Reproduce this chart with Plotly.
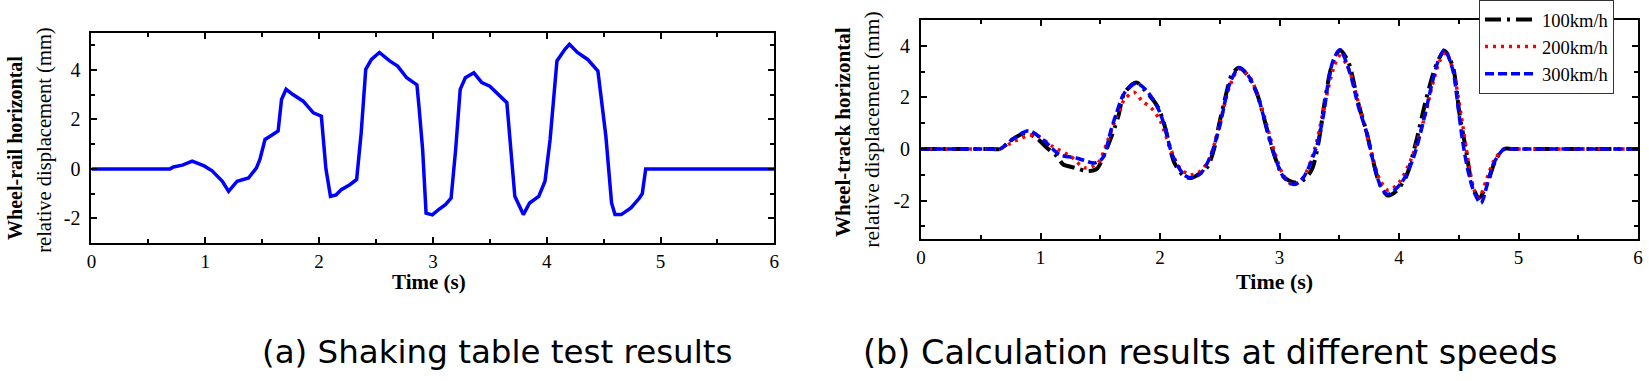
import plotly.graph_objects as go

W, H = 1649, 381

# ---------------- data ----------------
# (a) shaking table test
t_test = [0, 0.69, 0.72, 0.8, 0.885, 0.99, 1.06, 1.15, 1.205, 1.28, 1.38, 1.45, 1.48, 1.525, 1.57,
          1.64, 1.67, 1.71, 1.77, 1.86, 1.95, 2.02, 2.06, 2.10, 2.15, 2.195, 2.27, 2.33, 2.37, 2.41,
          2.46, 2.53, 2.62, 2.69, 2.77, 2.83, 2.86, 2.88, 2.91, 2.94, 2.995, 3.05, 3.11, 3.16, 3.2,
          3.24, 3.285, 3.36, 3.43, 3.5, 3.58, 3.65, 3.68, 3.72, 3.795, 3.85, 3.93, 3.985, 4.03, 4.09,
          4.16, 4.2, 4.27, 4.36, 4.45, 4.48, 4.52, 4.57, 4.6, 4.655, 4.74, 4.815, 4.84, 4.87, 6.0]
y_test = [0, 0, 0.08, 0.15, 0.31, 0.12, -0.08, -0.5, -0.91, -0.5, -0.37, 0.04, 0.38, 1.19, 1.32,
          1.53, 2.81, 3.22, 3.01, 2.74, 2.27, 2.13, 0, -1.11, -1.05, -0.84, -0.64, -0.43, 1.46, 4.03,
          4.43, 4.71, 4.37, 4.16, 3.69, 3.49, 3.4, 2.41, 0.78, -1.79, -1.86, -1.65, -1.45, -1.18, 0.78,
          3.22, 3.69, 3.89, 3.49, 3.35, 3.01, 2.68, 1.05, -1.11, -1.85, -1.38, -1.11, -0.5, 1.19, 4.37,
          4.84, 5.04, 4.71, 4.43, 3.96, 2.81, 1.32, -1.38, -1.85, -1.85, -1.58, -1.18, -1.0, 0, 0]

# (b) calculation results
t_100 = [0, 0.3, 0.6, 0.66, 0.76, 0.87, 0.96, 1.04, 1.135, 1.19, 1.29, 1.385, 1.47, 1.52, 1.59, 1.65, 1.70,
         1.80, 1.87, 1.98, 2.04, 2.08, 2.12, 2.2, 2.26, 2.34, 2.40, 2.45, 2.49, 2.535, 2.60, 2.66,
         2.73, 2.81, 2.895, 2.95, 3.03, 3.12, 3.2, 3.27, 3.325, 3.38, 3.435, 3.505, 3.575, 3.66, 3.73,
         3.78, 3.84, 3.905, 3.975, 4.06, 4.14, 4.225, 4.31, 4.38, 4.45, 4.505, 4.56, 4.615, 4.67, 4.74,
         4.81, 4.88, 4.95, 5.3, 6.0]
y_100 = [0, 0, 0, 0, 0.36, 0.62, 0.45, 0.1, -0.28, -0.6, -0.73, -0.86, -0.77, -0.35, 0.44, 1.26, 2.16,
         2.58, 2.29, 1.64, 0.87, 0.1, -0.54, -1.06, -1.12, -0.93, -0.67, -0.03, 0.87, 1.78, 2.87, 3.15,
         2.87, 2.16, 0.75, -0.15, -1.06, -1.3, -1.2, -0.8, 0.23, 1.9, 3.19, 3.83, 3.38, 1.75, 0.62,
         -0.41, -1.38, -1.8, -1.64, -1.06, 0.23, 1.9, 3.25, 3.8, 3.19, 1.39, -0.03, -1.44, -1.89, -1.31,
         -0.41, 0, 0, 0, 0]

t_200 = [0, 0.3, 0.6, 0.66, 0.78, 0.95, 1.1, 1.25, 1.37, 1.48, 1.56, 1.64, 1.70, 1.78, 1.855, 1.925, 2.0,
         2.08, 2.16, 2.25, 2.34, 2.42, 2.5, 2.58, 2.66, 2.75, 2.85, 2.95, 3.03, 3.11, 3.2, 3.3,
         3.38, 3.45, 3.5, 3.57, 3.66, 3.75, 3.84, 3.91, 4.0, 4.1, 4.2, 4.28, 4.34, 4.39, 4.45,
         4.52, 4.58, 4.63, 4.67, 4.73, 4.8, 4.88, 4.95, 5.3, 6.0]
y_200 = [0, 0, 0, 0, 0.3, 0.55, 0.1, -0.28, -0.73, -0.54, 0.3, 1.3, 1.9, 2.2, 1.84, 1.6, 1.1,
         0.1, -0.7, -1.0, -0.85, -0.3, 1.0, 2.4, 3.1, 2.8, 1.6, 0.0, -1.0, -1.4, -1.1, 0.1,
         1.8, 3.1, 3.6, 3.2, 1.8, 0.2, -1.2, -1.6, -1.3, -0.4, 1.0, 2.5, 3.4, 3.75, 3.1,
         1.3, -0.5, -1.6, -1.9, -1.2, -0.4, 0, 0, 0, 0]

t_300 = [0, 0.3, 0.6, 0.66, 0.76, 0.9, 1.02, 1.16, 1.30, 1.455, 1.52, 1.59, 1.63, 1.70, 1.80, 1.88, 1.98,
         2.04, 2.10, 2.2, 2.26, 2.34, 2.42, 2.5, 2.58, 2.66, 2.73, 2.81, 2.895, 2.95, 3.03, 3.12,
         3.2, 3.31, 3.37, 3.41, 3.45, 3.505, 3.59, 3.66, 3.73, 3.78, 3.84, 3.905, 4.02, 4.115, 4.2,
         4.27, 4.325, 4.38, 4.45, 4.49, 4.53, 4.575, 4.63, 4.685, 4.755, 4.8, 4.88, 4.95, 5.3, 6.0]
y_300 = [0, 0, 0, 0, 0.36, 0.71, 0.36, -0.22, -0.35, -0.54, -0.35, 0.75, 1.32, 2.16, 2.55, 2.3, 1.6,
         0.87, -0.2, -1.0, -1.12, -0.95, -0.3, 0.9, 2.5, 3.15, 2.9, 2.16, 0.75, -0.15, -1.06, -1.38,
         -1.1, 0.1, 1.39, 2.68, 3.45, 3.85, 2.93, 1.64, 0.62, -0.41, -1.38, -1.76, -1.31, -0.41, 1.0,
         2.42, 3.38, 3.85, 3.06, 1.78, 0.36, -0.8, -1.7, -2.1, -1.06, -0.48, 0, 0, 0, 0]

speed_labels = ["100km/h", "200km/h", "300km/h"]
x_ticks = [0, 1, 2, 3, 4, 5, 6]
y_ticks = [-2, 0, 2, 4]
y_ticktext = ["-2", "0", "2", "4"]

SERIF = "Liberation Serif, Times New Roman, serif"

fig = go.Figure()

fig.add_trace(go.Scatter(x=t_test, y=y_test, mode="lines", line=dict(color="#0000FF", width=3.5),
                         xaxis="x", yaxis="y", showlegend=False))

fig.add_trace(go.Scatter(x=t_100, y=y_100, mode="lines", name=speed_labels[0],
                         line=dict(color="black", width=4, dash="16px,6px,3px,6px", shape="spline", smoothing=0.8),
                         xaxis="x2", yaxis="y2"))
fig.add_trace(go.Scatter(x=t_200, y=y_200, mode="lines", name=speed_labels[1],
                         line=dict(color="#FF0000", width=3.5, dash="3px,5px", shape="spline", smoothing=0.8),
                         xaxis="x2", yaxis="y2"))
fig.add_trace(go.Scatter(x=t_300, y=y_300, mode="lines", name=speed_labels[2],
                         line=dict(color="#0000FF", width=3.5, dash="9px,4px", shape="spline", smoothing=0.8),
                         xaxis="x2", yaxis="y2"))


def xa(domain, anchor):
    return dict(domain=domain, anchor=anchor, range=[0, 6], tickvals=x_ticks,
                showline=True, linecolor="black", linewidth=2, mirror="ticks",
                ticks="inside", ticklen=6, tickwidth=2, tickcolor="black",
                minor=dict(dtick=0.5, tick0=0, ticks="inside", ticklen=4, tickwidth=2, tickcolor="black"),
                showgrid=False, zeroline=False, ticklabeloverflow="allow",
                tickfont=dict(family=SERIF, size=19, color="black"))


def ya(domain, anchor, rng):
    return dict(domain=domain, anchor=anchor, range=rng, tickvals=y_ticks, ticktext=y_ticktext,
                showline=True, linecolor="black", linewidth=2, mirror="ticks",
                ticks="inside", ticklen=6, tickwidth=2, tickcolor="black",
                minor=dict(dtick=1, tick0=1, ticks="inside", ticklen=4, tickwidth=2, tickcolor="black"),
                showgrid=False, zeroline=False, ticklabelstandoff=5,
                tickfont=dict(family=SERIF, size=20, color="black"))


def px(x):
    return x / W


def py(y):
    return 1 - y / H


annotations = [
    # left panel axis titles
    dict(x=px(10), y=py(148), text="<b>Wheel-rail horizontal</b>", textangle=-90,
         font=dict(family=SERIF, size=20, color="black")),
    dict(x=px(40), y=py(140), text="relative displacement (mm)", textangle=-90,
         font=dict(family=SERIF, size=20.5, color="black")),
    dict(x=px(426.5), y=py(281.5), text="<b>Time (s)</b>",
         font=dict(family=SERIF, size=21, color="black")),
    # right panel axis titles
    dict(x=px(843), y=py(132), text="<b>Wheel-track horizontal</b>", textangle=-90,
         font=dict(family=SERIF, size=21, color="black")),
    dict(x=px(872), y=py(130), text="relative displacement (mm)", textangle=-90,
         font=dict(family=SERIF, size=21.5, color="black")),
    dict(x=px(1277.5), y=py(281.5), text="<b>Time (s)</b>",
         font=dict(family=SERIF, size=22, color="black")),
    # captions
    dict(x=px(495), y=py(352), text="(a) Shaking table test results",
         font=dict(family="DejaVu Sans", size=32.5, color="black")),
    dict(x=px(1212), y=py(352), text="(b) Calculation results at different speeds",
         font=dict(family="DejaVu Sans", size=33.5, color="black")),
]
for a in annotations:
    a.update(xref="paper", yref="paper", showarrow=False, xanchor="center", yanchor="middle")

fig.update_layout(
    width=W, height=H, autosize=False,
    margin=dict(l=0, r=0, t=0, b=0),
    paper_bgcolor="white", plot_bgcolor="white",
    xaxis=xa([px(87), px(774)], "y"),
    yaxis=ya([py(243), py(33)], "x", [-3, 5.5]),
    xaxis2=xa([px(921.7), px(1643)], "y2"),
    yaxis2=ya([py(239.3), py(20)], "x2", [-3.5, 5]),
    annotations=annotations,
    legend=dict(x=px(1483), y=1.0, xanchor="left", yanchor="top",
                bgcolor="white", bordercolor="#333333", borderwidth=1,
                itemwidth=52, tracegroupgap=0,
                font=dict(family=SERIF, size=18.5, color="black")),
)

fig.write_html("out.html", config={"displayModeBar": False},
               post_script="document.body.style.margin='0';document.body.style.overflow='hidden';")
